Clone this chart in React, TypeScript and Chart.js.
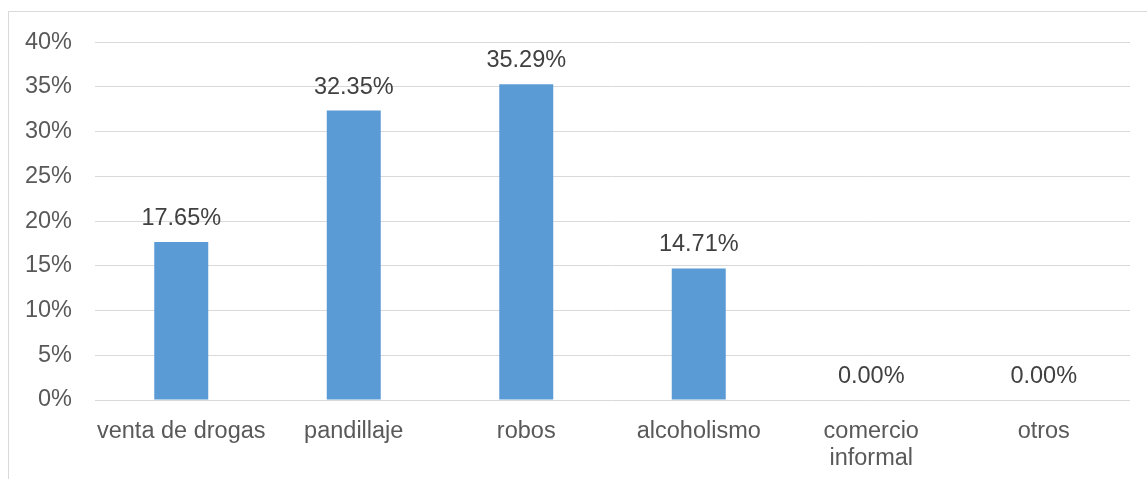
import React, { useEffect, useRef } from "react";
import { Chart, registerables } from "chart.js";

Chart.register(...registerables);

const categories: (string | string[])[] = [
  "venta de drogas",
  "pandillaje",
  "robos",
  "alcoholismo",
  ["comercio", "informal"],
  "otros",
];
const values: number[] = [17.65, 32.35, 35.29, 14.71, 0, 0];
const yTicksMax = 40;
const yTickStep = 5;

const FONT = "'Liberation Sans', Arial, sans-serif";
const FONT_SIZE = 23.5;

const dataLabels = {
  id: "dataLabels",
  afterDatasetsDraw(chart: any) {
    const ctx = chart.ctx;
    const meta = chart.getDatasetMeta(0);
    ctx.save();
    ctx.font = `${FONT_SIZE}px ${FONT}`;
    ctx.fillStyle = "#404040";
    ctx.textAlign = "center";
    ctx.textBaseline = "alphabetic";
    meta.data.forEach((bar: any, i: number) => {
      const v = values[i];
      ctx.fillText(v.toFixed(2) + "%", bar.x, bar.y - 17);
    });
    ctx.restore();
  },
};

export default function App() {
  const ref = useRef<HTMLCanvasElement | null>(null);
  useEffect(() => {
    if (!ref.current) return;
    const chart = new Chart(ref.current, {
      type: "bar",
      data: {
        labels: categories,
        datasets: [
          {
            data: values,
            backgroundColor: "#5B9BD5",
            barPercentage: 0.313,
            categoryPercentage: 1,
          },
        ],
      },
      options: {
        animation: false,
        responsive: false,
        maintainAspectRatio: false,
        layout: { padding: { top: 0, right: 17, bottom: 0, left: 0 } },
        plugins: {
          legend: { display: false },
          tooltip: { enabled: false },
        },
        scales: {
          x: {
            grid: { display: false, drawTicks: false },
            border: { display: false },
            ticks: {
              color: "#595959",
              font: { family: FONT, size: FONT_SIZE, lineHeight: 1.15 },
              padding: 18,
              maxRotation: 0,
              autoSkip: false,
            },
            afterFit: (s: any) => {
              s.height = 79;
            },
          },
          y: {
            min: 0,
            max: yTicksMax,
            grid: { color: "#d9d9d9", lineWidth: 1, drawTicks: false },
            border: { display: false },
            ticks: {
              stepSize: yTickStep,
              color: "#595959",
              font: { family: FONT, size: FONT_SIZE },
              padding: 23,
              callback: (v: any) => v + "%",
            },
            afterFit: (s: any) => {
              s.width = 86;
            },
          },
        },
      },
      plugins: [dataLabels],
    });
    return () => chart.destroy();
  }, []);
  return (
    <div
      style={{
        position: "fixed",
        left: 8,
        top: 11,
        width: 1139,
        height: 468,
        borderTop: "1px solid #d9d9d9",
        borderLeft: "1px solid #d9d9d9",
        boxSizing: "border-box",
        background: "#fff",
      }}
    >
      <canvas
        ref={ref}
        width={1138}
        height={474}
        style={{ display: "block", position: "absolute", left: 0, top: -7 }}
      />
    </div>
  );
}
